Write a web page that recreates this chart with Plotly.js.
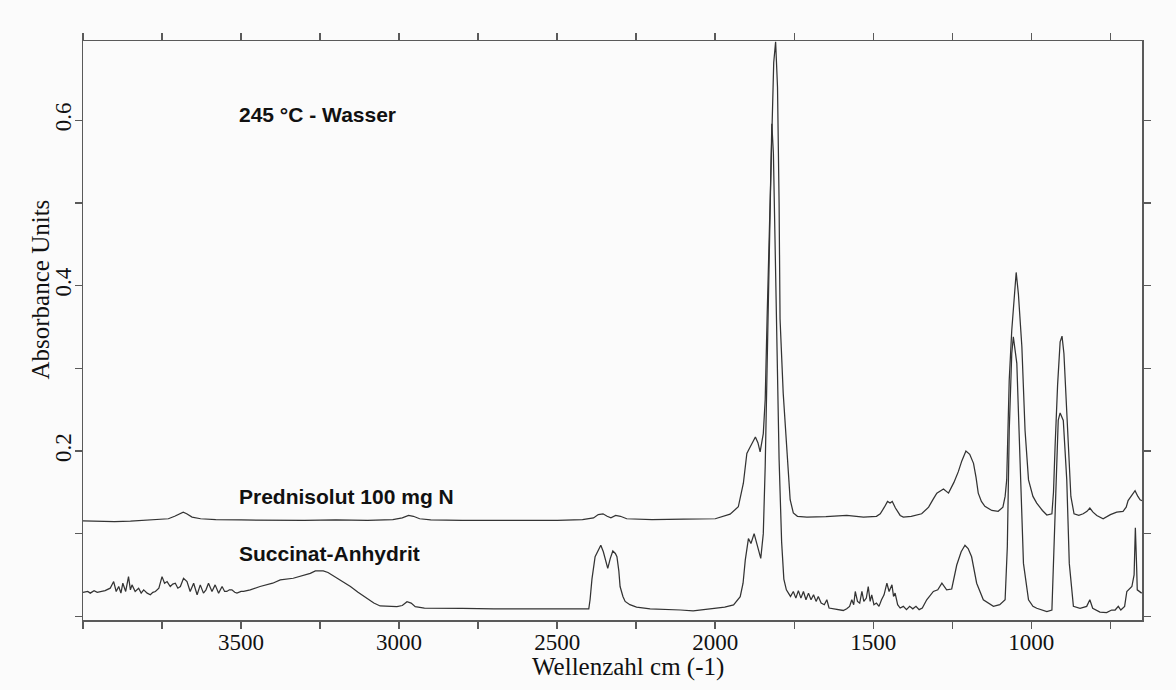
<!DOCTYPE html>
<html>
<head>
<meta charset="utf-8">
<script src="https://cdn.plot.ly/plotly-3.0.1.min.js"></script>
<style>
html,body{margin:0;padding:0;background:#fbfbfb;}
#chart{width:1176px;height:690px;}
</style>
</head>
<body>
<div id="chart"></div>
<script>
// Upper spectrum: Prednisolut 100 mg N (wavenumber, absorbance)
const predX = [4000,3950,3900,3850,3800,3760,3730,3710,3695,3683,3672,3655,3628,3580,3500,3400,3300,3200,3100,3020,2990,2970,2955,2935,2900,2800,2700,2600,2500,2420,2385,2370,2355,2342,2330,2315,2300,2280,2200,2100,2000,1953,1927,1911,1900,1892,1882,1873,1865,1858,1848,1842,1836,1830,1822,1815,1809,1803,1798,1795,1785,1774,1768,1763,1753,1740,1710,1650,1584,1531,1490,1478,1465,1455,1447,1440,1430,1415,1405,1380,1347,1325,1310,1299,1278,1262,1245,1231,1220,1207,1195,1183,1175,1168,1158,1147,1125,1105,1090,1083,1078,1070,1062,1055,1048,1041,1030,1020,1009,995,983,965,951,935,930,925,917,909,903,897,886,875,865,850,836,824,815,805,793,773,750,730,710,700,694,682,672,663,656,650];
const predY = [0.1155,0.115,0.1145,0.115,0.116,0.117,0.118,0.121,0.124,0.126,0.124,0.120,0.118,0.117,0.1165,0.116,0.116,0.1165,0.116,0.117,0.119,0.122,0.121,0.118,0.1165,0.116,0.116,0.1165,0.116,0.117,0.119,0.123,0.124,0.121,0.119,0.122,0.121,0.118,0.117,0.1175,0.118,0.1235,0.1325,0.161,0.197,0.203,0.210,0.217,0.210,0.199,0.221,0.262,0.36,0.45,0.58,0.67,0.695,0.64,0.50,0.36,0.27,0.20,0.16,0.141,0.125,0.121,0.120,0.1205,0.122,0.120,0.121,0.124,0.132,0.139,0.137,0.139,0.131,0.122,0.120,0.121,0.124,0.132,0.142,0.149,0.154,0.149,0.162,0.175,0.188,0.200,0.196,0.185,0.168,0.149,0.139,0.133,0.128,0.127,0.132,0.145,0.165,0.286,0.346,0.386,0.416,0.39,0.326,0.225,0.165,0.145,0.137,0.128,0.1225,0.124,0.150,0.205,0.280,0.332,0.339,0.318,0.225,0.145,0.124,0.122,0.124,0.127,0.131,0.126,0.122,0.118,0.123,0.126,0.127,0.132,0.140,0.146,0.152,0.145,0.141,0.140];

// Lower spectrum: Succinat-Anhydrit (wavenumber, absorbance)
const succX = [4000,3985,3977,3965,3955,3945,3930,3914,3903,3895,3887,3880,3874,3865,3856,3850,3845,3835,3824,3816,3808,3797,3787,3779,3771,3760,3750,3742,3734,3724,3716,3708,3700,3692,3682,3671,3661,3650,3639,3629,3619,3611,3603,3592,3582,3571,3560,3552,3545,3537,3529,3520,3513,3500,3492,3471,3440,3400,3376,3335,3300,3281,3265,3240,3225,3200,3180,3154,3130,3102,3080,3060,3040,3007,2990,2975,2962,2949,2920,2892,2800,2700,2600,2500,2420,2400,2396,2390,2380,2370,2362,2354,2346,2340,2332,2324,2316,2311,2305,2301,2292,2285,2270,2249,2206,2150,2110,2070,2040,2006,1970,1942,1921,1912,1905,1895,1887,1877,1867,1856,1848,1842,1836,1830,1826,1821,1816,1810,1804,1798,1790,1783,1775,1769,1762,1753,1745,1737,1729,1721,1713,1705,1697,1689,1681,1674,1665,1655,1647,1640,1625,1610,1595,1584,1575,1568,1562,1557,1550,1543,1536,1530,1522,1516,1510,1505,1498,1490,1482,1474,1466,1457,1450,1441,1436,1431,1423,1415,1405,1395,1385,1375,1365,1355,1345,1331,1320,1310,1296,1283,1268,1252,1236,1222,1210,1200,1189,1173,1152,1120,1100,1090,1083,1076,1070,1062,1057,1046,1036,1025,1009,995,983,965,951,935,928,922,915,909,899,888,880,867,846,825,815,806,783,762,746,735,725,717,705,698,688,682,675,671,667,665,651];
const succY = [0.029,0.030,0.028,0.031,0.029,0.030,0.031,0.034,0.042,0.030,0.036,0.028,0.040,0.030,0.048,0.032,0.038,0.030,0.034,0.028,0.032,0.028,0.026,0.029,0.030,0.034,0.048,0.040,0.042,0.036,0.039,0.040,0.034,0.036,0.046,0.042,0.030,0.040,0.026,0.038,0.028,0.032,0.040,0.030,0.038,0.028,0.036,0.030,0.030,0.032,0.032,0.029,0.028,0.030,0.030,0.032,0.036,0.040,0.044,0.046,0.050,0.052,0.055,0.055,0.053,0.047,0.042,0.036,0.029,0.022,0.016,0.0125,0.012,0.0116,0.013,0.0177,0.016,0.0116,0.010,0.0097,0.0095,0.009,0.0088,0.0087,0.0086,0.009,0.020,0.045,0.072,0.080,0.086,0.078,0.066,0.058,0.070,0.079,0.076,0.072,0.055,0.036,0.024,0.018,0.014,0.011,0.009,0.0085,0.0076,0.0065,0.008,0.0097,0.011,0.0137,0.0237,0.040,0.068,0.094,0.088,0.100,0.085,0.070,0.100,0.181,0.30,0.42,0.51,0.596,0.56,0.44,0.31,0.19,0.09,0.045,0.032,0.028,0.024,0.030,0.022,0.031,0.022,0.030,0.020,0.028,0.020,0.026,0.018,0.024,0.016,0.014,0.020,0.010,0.009,0.008,0.007,0.009,0.012,0.020,0.014,0.030,0.018,0.016,0.030,0.018,0.022,0.036,0.018,0.026,0.014,0.016,0.012,0.020,0.026,0.040,0.030,0.038,0.024,0.028,0.014,0.010,0.012,0.008,0.012,0.009,0.012,0.008,0.010,0.020,0.026,0.030,0.032,0.040,0.032,0.033,0.062,0.078,0.086,0.082,0.072,0.040,0.020,0.012,0.014,0.017,0.020,0.084,0.225,0.318,0.338,0.306,0.185,0.064,0.020,0.012,0.0097,0.007,0.0056,0.0076,0.084,0.165,0.237,0.246,0.237,0.165,0.064,0.012,0.0097,0.012,0.020,0.0097,0.005,0.0044,0.0076,0.0076,0.012,0.0076,0.012,0.030,0.034,0.036,0.050,0.107,0.060,0.032,0.028];

// Tick values and labels
const xTickVals = [4000,3750,3500,3250,3000,2750,2500,2250,2000,1750,1500,1250,1000,750];
const xTickText = ['','','3500','','3000','','2500','','2000','','1500','','1000',''];
const yTickVals = [0,0.1,0.2,0.3,0.4,0.5,0.6];
const yTickText = ['','','0.2','','0.4','','0.6'];

// Text labels
const labelTexts = ['245 °C - Wasser','Prednisolut 100 mg N','Succinat-Anhydrit'];
const labelX = [3512,3512,3512];
const labelY = [0.607,0.1446,0.0765];

const xTitle = 'Wellenzahl cm (-1)';
const yTitle = 'Absorbance Units';

const lineStyle = {color:'#333333', width:1.25};
const traces = [
  {x:predX, y:predY, type:'scatter', mode:'lines', line:lineStyle, name:'Prednisolut 100 mg N', hoverinfo:'x+y'},
  {x:succX, y:succY, type:'scatter', mode:'lines', line:lineStyle, name:'Succinat-Anhydrit', hoverinfo:'x+y'}
];

const serif = 'Liberation Serif, Times New Roman, serif';
const axisCommon = {
  showline:true, mirror:'ticks', linecolor:'#5a5a5a', linewidth:1.5,
  ticks:'outside', ticklen:7, tickwidth:1.5, tickcolor:'#5a5a5a',
  showgrid:false, zeroline:false, ticklabelstandoff:-6,
  tickfont:{family:serif, size:23, color:'#111'}
};

const annotations = labelTexts.map((t,i)=>({
  text:t, x:labelX[i], y:labelY[i], xref:'x', yref:'y',
  xanchor:'left', yanchor:'middle', showarrow:false,
  font:{family:'Liberation Sans, Arial, sans-serif', size:21, color:'#111', weight:'bold'}
}));
// axis titles placed as annotations at the reference positions
annotations.push({text:xTitle, xref:'paper', yref:'paper', x:0.5145, y:-0.082, xanchor:'center', yanchor:'middle', showarrow:false,
  font:{family:serif, size:25, color:'#111'}});
annotations.push({text:yTitle, xref:'paper', yref:'paper', x:-0.0405, y:0.571, xanchor:'center', yanchor:'middle', textangle:-90, showarrow:false,
  font:{family:serif, size:25, color:'#111'}});

const layout = {
  width:1176, height:690,
  margin:{l:83, r:34, t:41, b:70},
  paper_bgcolor:'#fbfbfb', plot_bgcolor:'#fbfbfb',
  showlegend:false,
  xaxis:Object.assign({}, axisCommon, {
    range:[4000,650], tickmode:'array', tickvals:xTickVals, ticktext:xTickText
  }),
  yaxis:Object.assign({}, axisCommon, {
    range:[-0.0045,0.696], tickmode:'array', tickvals:yTickVals, ticktext:yTickText, tickangle:-90
  }),
  annotations: annotations
};

Plotly.newPlot('chart', traces, layout, {displayModeBar:false, staticPlot:true});
</script>
</body>
</html>
